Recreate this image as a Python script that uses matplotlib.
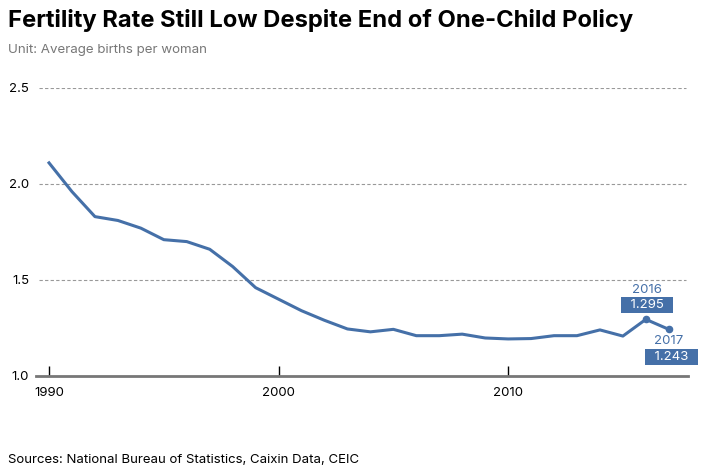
import numpy as np
from matplotlib import pyplot as plt

plt.rcParams['font.family'] = ['Inter', 'DejaVu Sans']

years = list(range(1990, 2018))
rate = [2.11, 1.96, 1.83, 1.81, 1.77, 1.71, 1.70, 1.66, 1.57, 1.46,
        1.40, 1.34, 1.29, 1.245, 1.23, 1.243, 1.21, 1.21, 1.218, 1.198,
        1.193, 1.195, 1.21, 1.21, 1.24, 1.208, 1.295, 1.243]
yticks = [1.0, 1.5, 2.0, 2.5]
xticks = [1990, 2000, 2010]

blue = '#4570a8'

fig = plt.figure(figsize=(7.05, 4.7), dpi=100)
ax = fig.add_axes([0.051, 0.2, 0.925, 0.6128])

ax.plot(years, rate, color=blue, lw=2.2, solid_joinstyle='round', zorder=3)
ax.scatter(years[-2:], rate[-2:], color=blue, s=20, zorder=4)

ax.set_ylim(1.0, 2.5)
ax.set_xlim(1989.43, 2017.84)
ax.set_yticks(yticks)
ax.set_yticklabels(['%.1f' % v for v in yticks])
ax.set_xticks(xticks)
ax.tick_params(axis='y', length=0, pad=5, labelsize=9.5)
ax.tick_params(axis='x', direction='in', length=7, width=1, color='black',
               pad=8, labelsize=9.5)
for s in ['top', 'right', 'left']:
    ax.spines[s].set_visible(False)
ax.spines['bottom'].set_color('#777777')
ax.spines['bottom'].set_linewidth(2)
for v in yticks[1:]:
    ax.axhline(v, xmin=0.005, xmax=0.997, color='#999999', lw=0.8,
               ls=(0, (3, 2)), zorder=1)

# labels for the last two points
box = dict(boxstyle='square,pad=0.15', fc=blue, ec='none')
ax.annotate('2016', (years[-2], rate[-2]), xytext=(0.5, 21), textcoords='offset points',
            ha='center', va='center', color=blue, fontsize=9.5)
ax.annotate('  1.295  ', (years[-2], rate[-2]), xytext=(1, 10.4), textcoords='offset points',
            ha='center', va='center', color='white', fontsize=9.5, bbox=box)
ax.annotate('2017', (years[-1], rate[-1]), xytext=(0, -8.4), textcoords='offset points',
            ha='center', va='center', color=blue, fontsize=9.5)
ax.annotate('  1.243  ', (years[-1], rate[-1]), xytext=(1.7, -20), textcoords='offset points',
            ha='center', va='center', color='white', fontsize=9.5, bbox=box)

fig.text(0.011, 0.956, 'Fertility Rate Still Low Despite End of One-Child Policy',
         fontsize=17.1, fontweight='bold', va='center')
fig.text(0.011, 0.893, 'Unit: Average births per woman', fontsize=9.6,
         color='#777777', va='center')
fig.text(0.011, 0.021, 'Sources: National Bureau of Statistics, Caixin Data, CEIC',
         fontsize=9.5, va='center')

plt.savefig('out.png', dpi=100)
